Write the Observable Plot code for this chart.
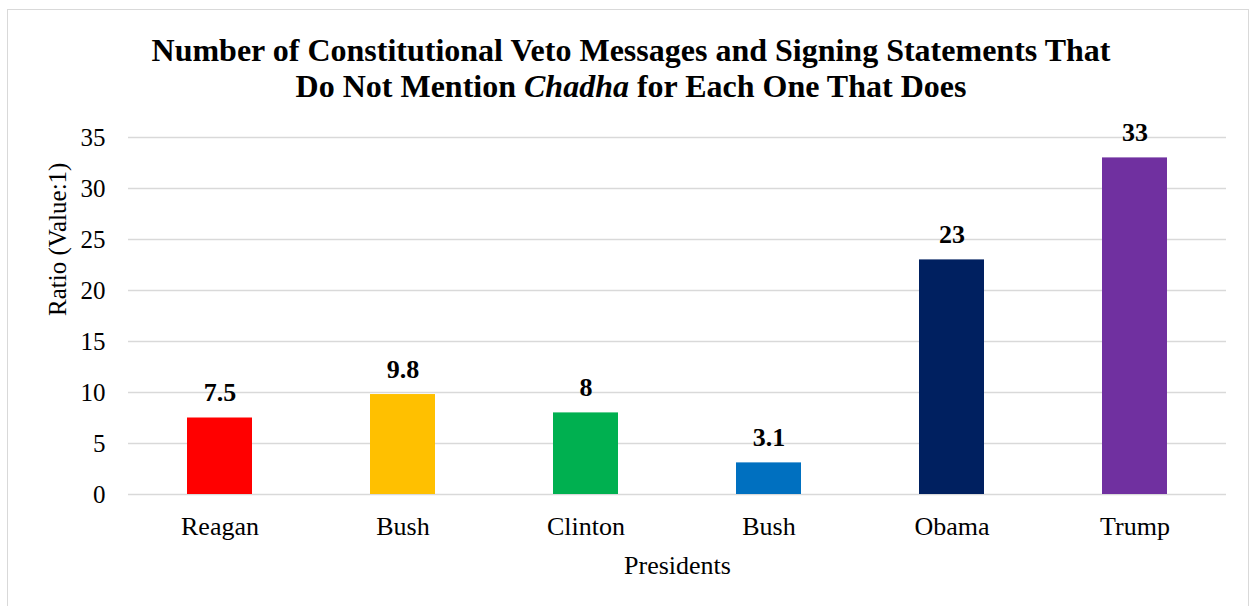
<!DOCTYPE html>
<html>
<head>
<meta charset="utf-8">
<script src="https://cdn.jsdelivr.net/npm/d3@7"></script>
<script src="https://cdn.jsdelivr.net/npm/@observablehq/plot@0.6"></script>
<style>
  html, body { margin: 0; padding: 0; background: #fff; }
  body { width: 1253px; height: 606px; position: relative; overflow: hidden; font-family: "Liberation Serif", "Times New Roman", serif; }
  #frame { position: absolute; left: 7px; top: 9px; width: 1242px; height: 640px; border: 1px solid #d9d9d9; box-sizing: border-box; }
  #title { position: absolute; left: 0; width: 1262px; top: 32px; text-align: center; font-weight: bold; font-size: 32px; line-height: 36px; color: #000; }
  #chart { position: absolute; left: 0; top: 110px; }
</style>
</head>
<body>
<div id="frame"></div>
<div id="title">Number of Constitutional Veto Messages and Signing Statements That<br>Do Not Mention <i>Chadha</i> for Each One That Does</div>
<div id="chart"></div>
<script>
const presidents = ["Reagan", "Bush", "Clinton", "Bush", "Obama", "Trump"];
const ratios = [7.5, 9.8, 8, 3.1, 23, 33];
const valueLabels = ["7.5", "9.8", "8", "3.1", "23", "33"];
const barColors = ["#ff0000", "#ffc000", "#00b050", "#0070c0", "#002060", "#7030a0"];
const yTicks = [0, 5, 10, 15, 20, 25, 30, 35];
const xTitle = "Presidents";
const yTitle = "Ratio (Value:1)";

const data = presidents.map((p, i) => ({idx: i, name: p, value: ratios[i], label: valueLabels[i], color: barColors[i]}));

const plot = Plot.plot({
  width: 1253,
  height: 496,
  marginTop: 27,
  marginBottom: 112,
  marginLeft: 128,
  marginRight: 27,
  style: {fontFamily: '"Liberation Serif", "Times New Roman", serif', fontSize: "25px", color: "#000", background: "transparent"},
  x: {domain: d3.range(presidents.length), paddingInner: 0.645, paddingOuter: 0.3225, label: null, tickFormat: i => presidents[i]},
  y: {domain: [0, 35], label: null},
  marks: [
    Plot.gridY(yTicks, {stroke: "#d9d9d9", strokeOpacity: 1, strokeWidth: 1.5}),
    Plot.barY(data, {x: "idx", y: "value", fill: "color"}),
    Plot.axisX({tickSize: 0, tickPadding: 22, fontSize: 26, tickFormat: i => presidents[i]}),
    Plot.axisY(yTicks, {tickSize: 0, tickPadding: 23, fontSize: 25, label: null}),
    Plot.text(data, {x: "idx", y: "value", text: "label", fontWeight: "bold", fontSize: 26, lineAnchor: "bottom", dy: -17, fill: "#000"}),
    Plot.text([xTitle], {frameAnchor: "bottom", dy: 79, fontSize: 26, lineAnchor: "bottom", fill: "#000"}),
    Plot.text([yTitle], {frameAnchor: "left", dx: -71, rotate: -90, fontSize: 25, fill: "#000"})
  ]
});
document.getElementById("chart").appendChild(plot);
</script>
</body>
</html>
